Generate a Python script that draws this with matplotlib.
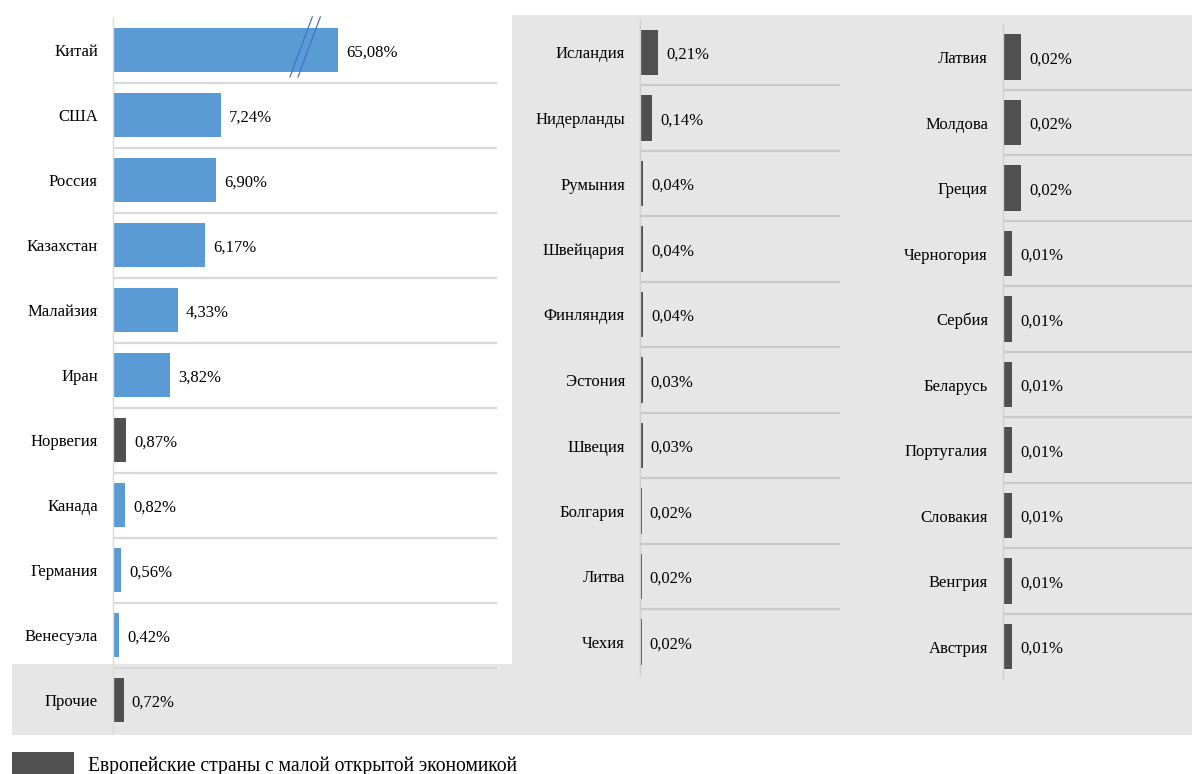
import numpy as np
import matplotlib
matplotlib.use("Agg")
import matplotlib.pyplot as plt
from matplotlib.patches import Rectangle

# ---------------- data ----------------
left_countries = ["Китай", "США", "Россия", "Казахстан", "Малайзия", "Иран",
                  "Норвегия", "Канада", "Германия", "Венесуэла", "Прочие"]
left_values = [65.08, 7.24, 6.90, 6.17, 4.33, 3.82, 0.87, 0.82, 0.56, 0.42, 0.72]
left_small_open = [False, False, False, False, False, False, True, False, False, False, True]

mid_countries = ["Исландия", "Нидерланды", "Румыния", "Швейцария", "Финляндия",
                 "Эстония", "Швеция", "Болгария", "Литва", "Чехия"]
mid_values = [0.21, 0.14, 0.04, 0.04, 0.04, 0.03, 0.03, 0.02, 0.02, 0.02]

right_countries = ["Латвия", "Молдова", "Греция", "Черногория", "Сербия",
                   "Беларусь", "Португалия", "Словакия", "Венгрия", "Австрия"]
right_values = [0.02, 0.02, 0.02, 0.01, 0.01, 0.01, 0.01, 0.01, 0.01, 0.01]

legend_label = "Европейские страны с малой открытой экономикой"

# ---------------- style ----------------
W, H = 1192, 774
BLUE = "#5B9BD5"
DARK = "#505050"
GREY_BG = "#E6E6E6"
SEP_WHITE = "#D9D9D9"
SEP_GREY = "#C9C9C9"
FONT = "Liberation Serif"
FS = 12

plt.rcParams["font.family"] = [FONT, "DejaVu Serif"]

fig = plt.figure(figsize=(W / 100, H / 100), dpi=100)
fig.patch.set_facecolor("white")


def px_rect(x, y, w, h):
    """Rectangle in pixel coords (origin top-left) -> figure fraction."""
    return (x / W, 1 - (y + h) / H, w / W, h / H)


# grey backgrounds (L-shape)
for (x, y, w, h) in [(512, 15, 680, 720), (12, 664, 500, 71)]:
    l, b, ww, hh = px_rect(x, y, w, h)
    fig.add_artist(Rectangle((l, b), ww, hh, transform=fig.transFigure,
                             facecolor=GREY_BG, edgecolor="none", zorder=-10))


def fmt(v):
    return f"{v:.2f}".replace(".", ",") + "%"


def make_panel(rect_px, names, values, colors, xlim, sep_color, spine_color,
               scale=None):
    ax = fig.add_axes(px_rect(*rect_px))
    ax.set_facecolor("none")
    if scale is not None:
        ax.set_xscale("function", functions=scale)
    n = len(names)
    y = np.arange(n)
    ax.barh(y, values, height=0.69, color=colors, zorder=3)
    ax.set_ylim(n - 0.5, -0.5)
    ax.set_xlim(0, xlim)
    ax.set_xticks([])
    ax.set_yticks(y)
    ax.set_yticklabels(names, fontsize=FS, fontfamily=FONT)
    ax.tick_params(axis="y", length=0, pad=10.8)
    for s in ["top", "right", "bottom"]:
        ax.spines[s].set_visible(False)
    ax.spines["left"].set_color(spine_color)
    ax.spines["left"].set_linewidth(1.0)
    ax.spines["left"].set_zorder(4)
    for i in range(n - 1):
        ax.axhline(i + 0.5, color=sep_color, lw=1.6, zorder=1)
    for yi, v in zip(y, values):
        ax.annotate(fmt(v), xy=(v, yi), xytext=(5.8, -1.6), textcoords="offset points",
                    va="center", ha="left", fontsize=FS, fontfamily=FONT,
                    color="black", annotation_clip=False)
    return ax


# broken scale for the left panel (compress beyond 14 %)
BRK, K = 14.0, 0.02114


def fwd(x):
    x = np.asarray(x, dtype=float)
    return np.where(x <= BRK, x, BRK + (x - BRK) * K)


def inv(x):
    x = np.asarray(x, dtype=float)
    return np.where(x <= BRK, x, BRK + (x - BRK) / K)


left_colors = [DARK if s else BLUE for s in left_small_open]
axL = make_panel((113, 17.5, 384, 715), left_countries, left_values, left_colors,
                 float(inv(25.74)), SEP_WHITE, SEP_WHITE, scale=(fwd, inv))

# break marks on the China bar
for x0 in (11.86, 12.40):
    axL.plot([x0, x0 + 1.50], [0.415, -0.51], color="#4472C4", lw=0.9,
             zorder=5, clip_on=False)

make_panel((640, 19.75, 200, 655), mid_countries, mid_values, [DARK] * len(mid_values),
           0.21 * 200 / 18.0, SEP_GREY, "#CFCFCF")
make_panel((1003, 24.3, 189, 655), right_countries, right_values, [DARK] * len(right_values),
           0.02 * 189 / 18.0, SEP_GREY, "#CFCFCF")

# legend
l, b, ww, hh = px_rect(12, 752, 62, 30)
fig.add_artist(Rectangle((l, b), ww, hh, transform=fig.transFigure,
                         facecolor=DARK, edgecolor="none"))
fig.text(88 / W, (H - 771) / H, legend_label, fontsize=14.1, fontfamily=FONT,
         ha="left", va="baseline", color="black")

fig.savefig("out.png", dpi=100, facecolor="white")
